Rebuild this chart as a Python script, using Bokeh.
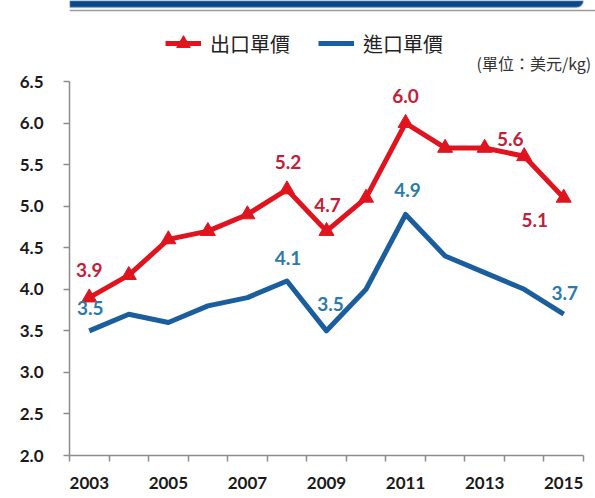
from bokeh.plotting import figure
from bokeh.models import (Range1d, FixedTicker, Legend, LegendItem, ColumnDataSource,
                          NumeralTickFormatter, Label, Span, BoxAnnotation)
from bokeh.core.properties import value
from bokeh.embed import file_html
from bokeh.resources import INLINE

# ---------------- data ----------------
years = [2003, 2004, 2005, 2006, 2007, 2008, 2009, 2010, 2011, 2012, 2013, 2014, 2015]
export_price = [3.9, 4.17, 4.6, 4.7, 4.9, 5.2, 4.7, 5.1, 6.0, 5.7, 5.7, 5.6, 5.1]
import_price = [3.5, 3.7, 3.6, 3.8, 3.9, 4.1, 3.5, 4.0, 4.9, 4.4, 4.2, 4.0, 3.7]
export_name = "出口單價"
import_name = "進口單價"
unit_text = "(單位：美元/kg)"
x_tick_years = [2003, 2005, 2007, 2009, 2011, 2013, 2015]
y_ticks = [2.0, 2.5, 3.0, 3.5, 4.0, 4.5, 5.0, 5.5, 6.0, 6.5]
export_labelled_years = [2003, 2008, 2009, 2011, 2014, 2015]
import_labelled_years = [2003, 2008, 2009, 2011, 2015]

# ---------------- style / layout ----------------
RED = "#e0141e"
RED_TXT = "#c2203a"
BLUE = "#1b5e9d"
BLUE_TXT = "#2c7aaa"
AXIS = "#8c8c8c"
TICK_TXT = "#1a1a1a"
NUM_FONT = "Lato"
CJK_FONT = "Noto Sans CJK TC"

W, H = 595, 498
LEFT, BOTTOM = 69, 43            # frame left edge / bottom border in px
Y_TOP_PX = 81                    # pixel row of the top y tick
X_PER_PX = 13 / (583 - LEFT)     # 13 categories between 69 and 583 px
Y_PER_PX = (y_ticks[-1] - y_ticks[0]) / ((H - BOTTOM) - Y_TOP_PX)

x0 = years[0] - 0.5
def px_x(px):
    return x0 + (px - LEFT) * X_PER_PX
def px_y(py):
    return y_ticks[0] + ((H - BOTTOM) - py) * Y_PER_PX

export_label_dx = [0, 1, 1, 0, -14, -29]
export_label_dy = [-28, -28, -26, -27, -17, 22]
import_label_dx = [1, 1, 4, 2, 1]
import_label_dy = [-23, -23, -27, -24, -21]

p = figure(width=W, height=H, output_backend="svg", toolbar_location=None,
           x_range=Range1d(x0, px_x(W)), y_range=Range1d(y_ticks[0], px_y(0)),
           min_border_left=LEFT, min_border_right=0, min_border_top=0,
           min_border_bottom=BOTTOM)
p.title.visible = False
p.outline_line_color = None
p.xgrid.visible = False
p.ygrid.visible = False
p.background_fill_color = "white"
p.border_fill_color = "white"

# axes
p.xaxis.bounds = (x0, years[-1] + 0.5)
p.xaxis.ticker = FixedTicker(ticks=x_tick_years,
                             minor_ticks=[y - 0.5 for y in years] + [years[-1] + 0.5])
p.xaxis.formatter = NumeralTickFormatter(format="0")
p.xaxis.major_tick_out = 0
p.xaxis.major_tick_in = 0
p.xaxis.minor_tick_out = 6
p.xaxis.minor_tick_in = 0
p.xaxis.major_label_standoff = 15
p.yaxis.bounds = (y_ticks[0], y_ticks[-1])
p.yaxis.ticker = FixedTicker(ticks=y_ticks)
p.yaxis.formatter = NumeralTickFormatter(format="0.0")
p.yaxis.major_tick_out = 6
p.yaxis.major_tick_in = 0
p.yaxis.minor_tick_line_color = None
p.yaxis.major_label_standoff = 20
for ax in (p.xaxis, p.yaxis):
    ax.axis_line_color = AXIS
    ax.axis_line_width = 1.5
    ax.major_tick_line_color = AXIS
    ax.major_tick_line_width = 1.5
    ax.minor_tick_line_width = 1.5
    ax.major_label_text_font = NUM_FONT
    ax.major_label_text_font_style = "bold"
    ax.major_label_text_font_size = "17px"
    ax.major_label_text_color = TICK_TXT
p.xaxis.minor_tick_line_color = AXIS

# slide decoration: banner and frame line at the top
p.add_layout(BoxAnnotation(bottom=px_y(7), right=years[-1] + 0.5,
                           fill_color="#0c4789", fill_alpha=1,
                           line_color="#b9c8d6", line_width=2,
                           border_radius=(0, 0, 12, 0)))
p.add_layout(Span(location=px_y(10), dimension="width", line_color="#9a9a9a",
                  line_width=1.5))

# series
src = ColumnDataSource(dict(x=years, exp=export_price, imp=import_price))
r_imp = p.line("x", "imp", source=src, line_color=BLUE, line_width=5, line_join="round")
r_exp = p.line("x", "exp", source=src, line_color=RED, line_width=5, line_join="round")
r_pts = p.scatter("x", "exp", source=src, marker="triangle", size=15,
                  fill_color=RED, line_color=RED)

# data labels
def label_source(sel_years, vals, dxs, dys):
    xs, ys, txt = [], [], []
    for yr in sel_years:
        v = vals[years.index(yr)]
        xs.append(yr); ys.append(v); txt.append(f"{v:.1f}")
    return ColumnDataSource(dict(x=xs, y=ys, t=txt, dx=dxs, dy=dys))

for sel, vals, dxs, dys, col in [
        (export_labelled_years, export_price, export_label_dx, export_label_dy, RED_TXT),
        (import_labelled_years, import_price, import_label_dx, import_label_dy, BLUE_TXT)]:
    s = label_source(sel, vals, dxs, dys)
    p.text("x", "y", text="t", source=s, x_offset="dx", y_offset="dy",
           text_align="center", text_baseline="middle", text_color=col,
           text_font=value(NUM_FONT), text_font_style="bold", text_font_size="19px")

# unit note
p.add_layout(Label(x=px_x(591), y=px_y(62), text=unit_text, text_align="right",
                   text_baseline="middle", text_font=CJK_FONT, text_font_size="16px",
                   text_color="#333333"))

# legend
legend = Legend(items=[LegendItem(label=export_name, renderers=[r_exp, r_pts]),
                       LegendItem(label=import_name, renderers=[r_imp])],
                orientation="horizontal", location=(165 - LEFT, (H - BOTTOM) - 43 - 17),
                padding=0, margin=0, spacing=28, glyph_width=36, glyph_height=34,
                label_standoff=9, label_text_font=CJK_FONT, label_text_font_size="20px",
                label_text_color="#222222", border_line_alpha=0, background_fill_alpha=0)
p.add_layout(legend, "center")

open("out.html", "w").write(file_html(p, INLINE))
